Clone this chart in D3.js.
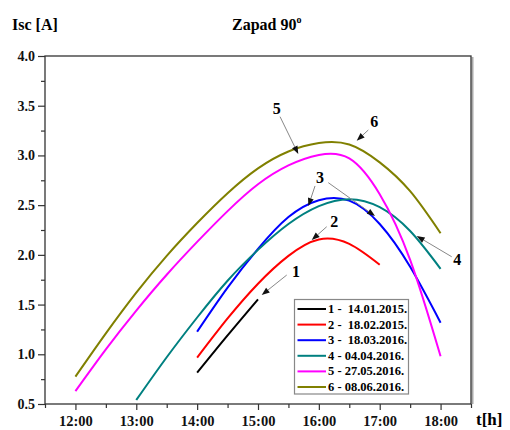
<!DOCTYPE html>
<html><head><meta charset="utf-8">
<script src="https://cdn.jsdelivr.net/npm/d3@7/dist/d3.min.js"></script>
<style>
html,body{margin:0;padding:0;background:#fff;}
svg{display:block;font-family:"Liberation Serif","Times New Roman",serif;font-weight:bold;}
</style></head>
<body>
<script>
// ---- data ----
const seriesNames = ["1 -  14.01.2015.","2 -  18.02.2015.","3 -  18.03.2016.","4 - 04.04.2016.","5 - 27.05.2016.","6 - 08.06.2016."];
const seriesColors = ["#000000","#ff0000","#0000ff","#008080","#ff00ff","#808000"];
const s1Hours = [14.0, 14.5, 15.0];
const s1Isc   = [0.815, 1.19, 1.553];
const s2Hours = [14.0, 14.5, 15.0, 15.5, 16.0, 16.5, 17.0];
const s2Isc   = [0.966, 1.36, 1.71, 1.99, 2.155, 2.11, 1.90];
const s3Hours = [14.0, 14.5, 15.0, 15.5, 16.0, 16.5, 17.0, 17.5, 18.0];
const s3Isc   = [1.227, 1.67, 2.06, 2.38, 2.55, 2.545, 2.31, 1.88, 1.318];
const s4Hours = [13.0, 13.5, 14.0, 14.5, 15.0, 15.5, 16.0, 16.5, 17.0, 17.5, 18.0];
const s4Isc   = [0.54, 0.97, 1.37, 1.74, 2.05, 2.31, 2.49, 2.56, 2.48, 2.24, 1.86];
const s5Hours = [12.0, 12.5, 13.0, 13.5, 14.0, 14.5, 15.0, 15.5, 16.0, 16.5, 17.0, 17.5, 18.0];
const s5Isc   = [0.63, 1.05, 1.44, 1.80, 2.13, 2.44, 2.71, 2.90, 3.005, 2.97, 2.61, 1.95, 0.98];
const s6Hours = [12.0, 12.5, 13.0, 13.5, 14.0, 14.5, 15.0, 15.5, 16.0, 16.5, 17.0, 17.5, 18.0];
const s6Isc   = [0.775, 1.21, 1.62, 1.99, 2.32, 2.62, 2.87, 3.04, 3.125, 3.11, 2.93, 2.64, 2.217];
const xTickHours = [12, 13, 14, 15, 16, 17, 18];
const xTickLabels = ["12:00","13:00","14:00","15:00","16:00","17:00","18:00"];
const yTickValues = [0.5, 1.0, 1.5, 2.0, 2.5, 3.0, 3.5, 4.0];
const annLabels = ["1","2","3","4","5","6"];
const annLabelPos = [[15.624,1.831],[16.254,2.333],[16.019,2.776],[18.275,1.955],[15.307,3.474],[16.911,3.339]];
const annArrows = [
  [[15.472,1.797],[15.061,1.596]],
  [[16.129,2.283],[15.883,2.149]],
  [[15.937,2.693],[15.827,2.491]],
  [[16.155,2.726],[16.923,2.391]],
  [[18.183,1.981],[17.608,2.190]],
  [[15.362,3.390],[15.662,3.014]],
  [[16.813,3.256],[16.622,3.148]]
];

const W = 510, H = 430;
const svg = d3.select("body").append("svg").attr("width", W).attr("height", H);

const x = d3.scaleLinear().domain([11.5, 18.5]).range([45, 471]);
const y = d3.scaleLinear().domain([0.5, 4.0]).range([404, 56]);

// frame shadow on right
svg.append("line").attr("x1", x(18.5)+1.5).attr("x2", x(18.5)+1.5).attr("y1", y(4.0)+1).attr("y2", y(0.5))
  .attr("stroke", "#aaa").attr("stroke-width", 2);
// frame
svg.append("rect").attr("x", x(11.5)).attr("y", y(4.0)).attr("width", x(18.5)-x(11.5)).attr("height", y(0.5)-y(4.0))
  .attr("fill", "none").attr("stroke", "#333").attr("stroke-width", 1.3);

// y axis
const yAxis = d3.axisLeft(y).tickValues(yTickValues).tickFormat(d3.format(".1f")).tickSize(7).tickPadding(3);
const gy = svg.append("g").attr("transform", `translate(${x(11.5)},0)`).call(yAxis);
gy.select(".domain").remove();
gy.selectAll("line").attr("stroke", "#333").attr("stroke-width", 1.2);
gy.selectAll("text").attr("font-size", 14).attr("font-family", "Liberation Serif").attr("font-weight", "bold").attr("fill", "#111");
const yMinor = d3.axisLeft(y).tickValues(d3.range(0.75, 4.0, 0.5)).tickSize(4).tickFormat("");
const gym = svg.append("g").attr("transform", `translate(${x(11.5)},0)`).call(yMinor);
gym.select(".domain").remove();
gym.selectAll("line").attr("stroke", "#333").attr("stroke-width", 1.2);

// x axis
const xAxis = d3.axisBottom(x).tickValues(xTickHours).tickFormat((d, i) => xTickLabels[i]).tickSize(6).tickPadding(6);
const gx = svg.append("g").attr("transform", `translate(0,${y(0.5)})`).call(xAxis);
gx.select(".domain").remove();
gx.selectAll("line").attr("stroke", "#333").attr("stroke-width", 1.2);
gx.selectAll("text").attr("font-size", 14.5).attr("font-family", "Liberation Serif").attr("font-weight", "bold").attr("fill", "#111");
const xMinor = d3.axisBottom(x).tickValues(d3.range(11.5, 18.6, 1)).tickSize(4).tickFormat("");
const gxm = svg.append("g").attr("transform", `translate(0,${y(0.5)})`).call(xMinor);
gxm.select(".domain").remove();
gxm.selectAll("line").attr("stroke", "#333").attr("stroke-width", 1.2);

// titles
svg.append("text").attr("x", 12).attr("y", 30).attr("font-size", 16).text("Isc [A]");
const t = svg.append("text").attr("x", 232).attr("y", 30).attr("font-size", 16);
t.append("tspan").text("Zapad 90");
t.append("tspan").attr("dy", -7).attr("font-size", 10).text("o");
svg.append("text").attr("x", 476).attr("y", 425).attr("font-size", 17).text("t[h]");

// series
const allHours = [s1Hours, s2Hours, s3Hours, s4Hours, s5Hours, s6Hours];
const allIsc = [s1Isc, s2Isc, s3Isc, s4Isc, s5Isc, s6Isc];
const line = d3.line().x(d => x(d[0])).y(d => y(d[1])).curve(d3.curveNatural);
allHours.forEach((hs, i) => {
  const pts = hs.map((h, j) => [h, allIsc[i][j]]);
  svg.append("path").attr("d", line(pts)).attr("fill", "none")
    .attr("stroke", seriesColors[i]).attr("stroke-width", 2);
});

// annotations
annArrows.forEach(a => {
  const x1 = x(a[0][0]), y1 = y(a[0][1]), x2 = x(a[1][0]), y2 = y(a[1][1]);
  const ang = Math.atan2(y2 - y1, x2 - x1);
  const L = 8, Wd = 3;
  const bx = x2 - L * Math.cos(ang), by = y2 - L * Math.sin(ang);
  svg.append("line").attr("x1", x1).attr("y1", y1).attr("x2", bx).attr("y2", by)
    .attr("stroke", "#888").attr("stroke-width", 1);
  const p = [[x2, y2], [bx + Wd * Math.sin(ang), by - Wd * Math.cos(ang)], [bx - Wd * Math.sin(ang), by + Wd * Math.cos(ang)]];
  svg.append("path").attr("d", "M" + p.map(q => q.join(",")).join("L") + "Z").attr("fill", "#111");
});
annLabels.forEach((lab, i) => {
  svg.append("text").attr("x", x(annLabelPos[i][0])).attr("y", y(annLabelPos[i][1]))
    .attr("text-anchor", "middle").attr("dominant-baseline", "central").attr("font-size", 16).text(lab);
});

// legend
const lg = svg.append("g");
lg.append("rect").attr("x", 294.5).attr("y", 299.5).attr("width", 114).attr("height", 94.5)
  .attr("fill", "#fff").attr("stroke", "#888").attr("stroke-width", 1.2);
seriesNames.forEach((n, i) => {
  const yy = 309 + i * 15.6;
  lg.append("line").attr("x1", 297.5).attr("x2", 326).attr("y1", yy).attr("y2", yy)
    .attr("stroke", seriesColors[i]).attr("stroke-width", 2);
  lg.append("text").attr("x", 328).attr("y", yy).attr("dominant-baseline", "central")
    .attr("font-size", 12.5).style("white-space", "pre").text(n);
});
</script>
</body></html>
